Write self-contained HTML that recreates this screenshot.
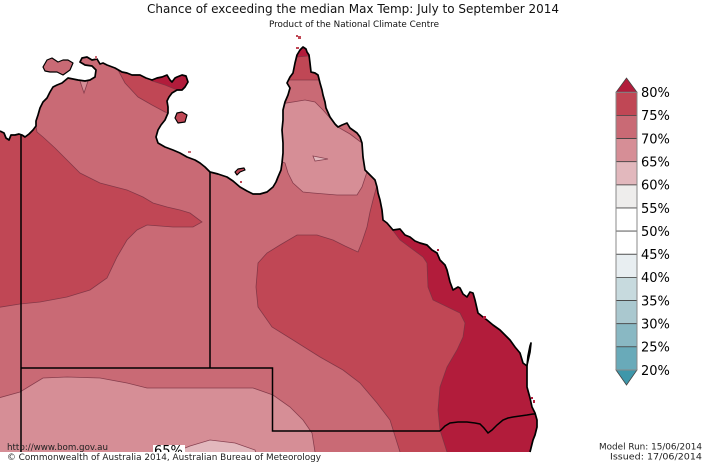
<!DOCTYPE html>
<html><head><meta charset="utf-8"><style>
html,body{margin:0;padding:0;background:#fff;width:708px;height:464px;overflow:hidden}
svg{display:block}
text{font-family:"DejaVu Sans","Liberation Sans",sans-serif}
</style></head><body>
<svg width="708" height="464" viewBox="0 0 708 464" xmlns="http://www.w3.org/2000/svg">
<defs>
<clipPath id="land"><polygon points="0,131 4,133 6,138 9,140 11,135 15,135 19,134 22,135 25,137 29,134 33,130 36,126 36,121 38,115 40,108 43,102 47,98 50,92 53,87 57,85 62,83 68,78 73,79 78,80 85,81 90,80 95,77 96,70 92,66 85,65 80,62 82,58 87,57 92,60 97,59 100,64 103,63 107,65 115,68 122,72 127,73 132,75 140,75 146,78 152,80 157,78 162,77 167,75 170,80 172,82 175,78 177,77 182,75 186,76 188,82 185,87 182,90 177,90 172,93 169,97 167,101 168,107 168,113 165,120 161,125 158,130 156,137 158,143 165,147 173,150 180,153 187,157 195,160 200,163 205,167 210,172 218,174 227,177 233,181 240,187 247,191 253,194 260,194 267,192 273,187 276,182 278,177 281,170 282,163 283,153 283,143 282,130 283,120 283,110 285,102 288,95 290,88 287,83 290,77 293,73 295,63 297,55 300,50 303,47 306,49 307,52 309,55 310,63 311,72 315,73 318,75 320,83 322,90 323,95 325,102 326,108 330,117 335,124 338,127 342,125 347,123 350,128 357,133 360,137 362,143 363,157 365,170 370,175 375,180 377,187 378,193 380,200 382,210 383,220 387,223 393,230 400,229 405,235 410,237 415,241 420,243 427,245 432,250 437,253 440,260 445,265 447,270 450,282 453,290 458,287 460,288 463,294 467,297 470,292 473,293 475,300 478,313 483,317 487,320 493,325 500,330 505,335 510,340 515,347 520,353 523,363 527,366 528,356 530,346 531,343 530,352 527,365 527,375 527,387 530,398 532,407 535,413 537,420 537,427 535,435 533,440 531,448 530,452 0,452"/></clipPath>
<clipPath id="mapc"><rect x="0" y="0" width="708" height="452"/></clipPath>
</defs>

<g clip-path="url(#land)">
<rect x="-10" y="0" width="600" height="470" fill="#c96a75"/>
<g stroke="#7a3343" stroke-width="0.8" stroke-opacity="0.85">
<!-- NT west 75 -->
<polygon fill="#c04755" points="-5,120 35,120 37,132 43,137 55,148 67,160 80,173 100,183 127,190 143,197 153,203 167,207 180,210 190,213 202,222 193,227 173,227 147,225 137,230 127,240 117,257 107,278 90,290 67,297 40,302 20,304 -5,308"/>
<!-- NT NE 75 -->
<polygon fill="#c04755" points="115,60 118,70 125,83 138,97 152,105 165,112 172,114 200,100 200,60"/>
<polygon fill="#b21c3b" points="150,70 152,81 165,85 182,92 195,92 195,65"/>
<polygon fill="#d68e96" points="79,78 89,78 84,93"/>
<!-- Cape York -->
<polygon fill="#c04755" points="270,30 330,30 330,80 270,80"/>
<polygon fill="#b21c3b" points="270,30 330,30 330,56 308,56 297,57 270,57"/>
<polygon fill="#d68e96" points="270,104 280,104 293,102 305,100 315,102 323,110 330,118 336,126 350,134 362,143 366,160 367,172 362,187 357,195 337,195 313,193 303,192 293,183 288,173 285,163 278,160"/>
<polygon fill="#e2b8bd" points="313,156 328,159 315,161"/>
<!-- QLD 75 -->
<polygon fill="#c04755" points="380,180 377,185 373,200 370,212 367,227 362,242 358,252 345,246 333,240 317,235 297,235 280,245 267,253 258,263 256,287 258,307 272,327 293,340 320,357 343,370 360,383 377,403 390,420 400,452 402,460 560,460 560,180"/>
<!-- QLD 80 -->
<polygon fill="#b21c3b" points="385,200 385,220 400,240 423,257 427,263 428,287 433,300 460,313 465,323 463,337 457,350 447,367 440,387 438,410 440,430 447,452 449,460 560,460 560,200"/>
<!-- south 65 -->
<polygon fill="#d68e96" points="-5,399 20,392 43,378 67,377 100,378 127,383 147,388 200,388 253,388 273,395 290,407 303,420 312,433 315,452 316,460 -5,460"/>
<polygon fill="#e2b8bd" points="172,460 175,452 190,446 210,440 235,443 255,450 258,460"/>
</g>
</g>

<!-- state borders -->
<g stroke="#000" stroke-width="1.5" fill="none">
<line x1="21" y1="134" x2="21" y2="452"/>
<line x1="210" y1="172" x2="210" y2="368"/>
<polyline points="21,368 272.5,368 272.5,431 440,431"/>
<polyline points="440,431 445,426 450,423 458,422 467,422 475,423 480,424 484,428 488,433 492,430 497,425 503,420 508,418 513,417 520,416 527,415 533,414 536,414"/>
</g>

<!-- coastline -->
<polyline fill="none" stroke="#000" stroke-width="1.7" stroke-linejoin="round" points="0,131 4,133 6,138 9,140 11,135 15,135 19,134 22,135 25,137 29,134 33,130 36,126 36,121 38,115 40,108 43,102 47,98 50,92 53,87 57,85 62,83 68,78 73,79 78,80 85,81 90,80 95,77 96,70 92,66 85,65 80,62 82,58 87,57 92,60 97,59 100,64 103,63 107,65 115,68 122,72 127,73 132,75 140,75 146,78 152,80 157,78 162,77 167,75 170,80 172,82 175,78 177,77 182,75 186,76 188,82 185,87 182,90 177,90 172,93 169,97 167,101 168,107 168,113 165,120 161,125 158,130 156,137 158,143 165,147 173,150 180,153 187,157 195,160 200,163 205,167 210,172 218,174 227,177 233,181 240,187 247,191 253,194 260,194 267,192 273,187 276,182 278,177 281,170 282,163 283,153 283,143 282,130 283,120 283,110 285,102 288,95 290,88 287,83 290,77 293,73 295,63 297,55 300,50 303,47 306,49 307,52 309,55 310,63 311,72 315,73 318,75 320,83 322,90 323,95 325,102 326,108 330,117 335,124 338,127 342,125 347,123 350,128 357,133 360,137 362,143 363,157 365,170 370,175 375,180 377,187 378,193 380,200 382,210 383,220 387,223 393,230 400,229 405,235 410,237 415,241 420,243 427,245 432,250 437,253 440,260 445,265 447,270 450,282 453,290 458,287 460,288 463,294 467,297 470,292 473,293 475,300 478,313 483,317 487,320 493,325 500,330 505,335 510,340 515,347 520,353 523,363 527,366 528,356 530,346 531,343 530,352 527,365 527,375 527,387 530,398 532,407 535,413 537,420 537,427 535,435 533,440 531,448 530,452"/>

<!-- islands -->
<g stroke="#000" stroke-width="1.2" stroke-linejoin="round">
<polygon fill="#c96a75" points="43,67 47,60 52,58 58,62 63,60 68,60 73,63 70,70 63,75 57,72 50,72 45,71"/>
<polygon fill="#c04755" points="175,118 177,113 182,112 187,115 185,122 178,123"/>
<polygon fill="#c04755" points="235,172 238,169 244,168 245,170 240,172 237,175"/>
</g>
<g>
<rect x="296" y="35" width="2" height="2" fill="#c04755"/>
<rect x="298" y="36" width="3" height="3" fill="#c04755"/>
<rect x="296" y="47" width="3" height="2" fill="#c04755"/>
<rect x="95" y="56" width="2" height="3" fill="#c96a75"/>
<rect x="188" y="151" width="3" height="2" fill="#c96a75"/>
<rect x="240" y="181" width="2" height="2" fill="#c04755"/>
<rect x="437" y="249" width="2" height="2" fill="#b21c3b"/>
<rect x="483" y="316" width="3" height="3" fill="#b21c3b"/>
<rect x="531" y="397" width="2" height="2" fill="#b21c3b"/>
<rect x="533" y="400" width="2" height="3" fill="#b21c3b"/>
</g>

<!-- 65% label -->
<g clip-path="url(#mapc)">
<rect x="153" y="445" width="32" height="12" fill="#fff"/>
<text x="154" y="455" font-size="13" fill="#000">65%</text>
</g>

<!-- legend -->
<g stroke="#444" stroke-width="0.8">
<polygon points="616,92.3 626.5,78 637,92.3" fill="#b21c3b"/>
<rect x="616" y="92.3" width="21" height="23.14" fill="#c04755"/>
<rect x="616" y="115.4" width="21" height="23.14" fill="#c96a75"/>
<rect x="616" y="138.6" width="21" height="23.14" fill="#d68e96"/>
<rect x="616" y="161.7" width="21" height="23.14" fill="#e2b8bd"/>
<rect x="616" y="184.9" width="21" height="23.14" fill="#eeedec"/>
<rect x="616" y="208.0" width="21" height="23.14" fill="#ffffff"/>
<rect x="616" y="231.1" width="21" height="23.14" fill="#ffffff"/>
<rect x="616" y="254.3" width="21" height="23.14" fill="#e8eef1"/>
<rect x="616" y="277.4" width="21" height="23.14" fill="#c7dade"/>
<rect x="616" y="300.6" width="21" height="23.14" fill="#aac8cf"/>
<rect x="616" y="323.7" width="21" height="23.14" fill="#89b8c3"/>
<rect x="616" y="346.8" width="21" height="23.2" fill="#69aab9"/>
<polygon points="616,370 626.5,385 637,370" fill="#3e97aa"/>
</g>
<rect x="616" y="92.3" width="21" height="277.7" fill="none" stroke="#888" stroke-width="1"/>
<g font-size="13" fill="#000">
<text x="641" y="97.1">80%</text>
<text x="641" y="120.2">75%</text>
<text x="641" y="143.4">70%</text>
<text x="641" y="166.5">65%</text>
<text x="641" y="189.7">60%</text>
<text x="641" y="212.8">55%</text>
<text x="641" y="235.9">50%</text>
<text x="641" y="259.1">45%</text>
<text x="641" y="282.2">40%</text>
<text x="641" y="305.4">35%</text>
<text x="641" y="328.5">30%</text>
<text x="641" y="351.6">25%</text>
<text x="641" y="374.8">20%</text>
</g>

<!-- titles -->
<text x="147" y="13" font-size="12.5" fill="#111" textLength="412" lengthAdjust="spacingAndGlyphs">Chance of exceeding the median Max Temp: July to September 2014</text>
<text x="269" y="27" font-size="8.5" fill="#111" textLength="170" lengthAdjust="spacingAndGlyphs">Product of the National Climate Centre</text>

<!-- footer -->
<text x="7" y="450" font-size="9" fill="#222" textLength="101" lengthAdjust="spacingAndGlyphs">http://www.bom.gov.au</text>
<text x="7" y="460" font-size="9" fill="#222" textLength="314" lengthAdjust="spacingAndGlyphs">©  Commonwealth of Australia 2014, Australian Bureau of Meteorology</text>
<text x="599" y="449.5" font-size="9" fill="#222" textLength="103" lengthAdjust="spacingAndGlyphs">Model Run: 15/06/2014</text>
<text x="610" y="459.5" font-size="9" fill="#222" textLength="92" lengthAdjust="spacingAndGlyphs">Issued: 17/06/2014</text>
</svg>
</body></html>
